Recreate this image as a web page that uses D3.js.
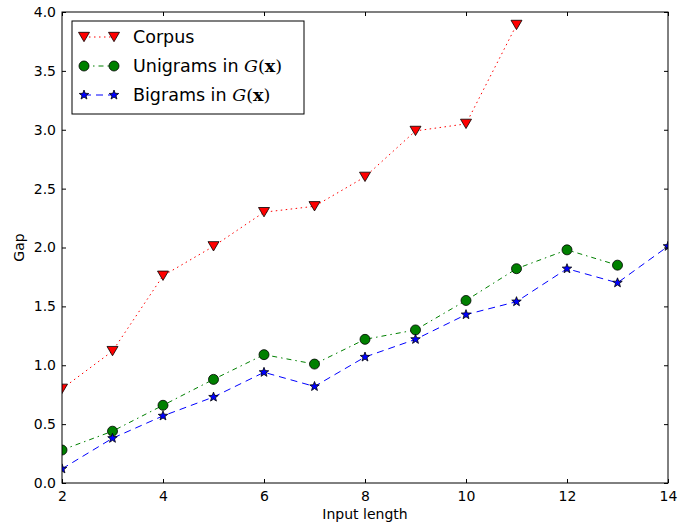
<!DOCTYPE html>
<html>
<head>
<meta charset="utf-8">
<script src="https://cdn.jsdelivr.net/npm/d3@7"></script>
<style>
  body { margin: 0; background: #fff; }
  text { font-family: "DejaVu Sans", sans-serif; }
</style>
</head>
<body>
<div id="chart"></div>
<script>
// data
var corpusX = [2, 3, 4, 5, 6, 7, 8, 9, 10, 11];
var corpusY = [0.80, 1.12, 1.76, 2.01, 2.30, 2.35, 2.60, 2.99, 3.05, 3.89];
var unigramX = [2, 3, 4, 5, 6, 7, 8, 9, 10, 11, 12, 13];
var unigramY = [0.28, 0.44, 0.66, 0.88, 1.09, 1.01, 1.22, 1.30, 1.55, 1.82, 1.98, 1.85];
var bigramX = [2, 3, 4, 5, 6, 7, 8, 9, 10, 11, 12, 13, 14];
var bigramY = [0.12, 0.38, 0.57, 0.73, 0.94, 0.82, 1.07, 1.22, 1.43, 1.54, 1.82, 1.70, 2.01];
var xTicks = [2, 4, 6, 8, 10, 12, 14];
var yTicks = [0, 0.5, 1, 1.5, 2, 2.5, 3, 3.5, 4];

var W = 679, H = 526;
var margin = {top: 12, right: 11, bottom: 43, left: 62},
    width = W - margin.left - margin.right,
    height = H - margin.top - margin.bottom;

var svg = d3.select("#chart").append("svg")
  .attr("width", W)
  .attr("height", H);

var g = svg.append("g")
  .attr("transform", "translate(" + margin.left + "," + margin.top + ")");

var x = d3.scaleLinear().domain([2, 14]).range([0, width]);
var y = d3.scaleLinear().domain([0, 4]).range([height, 0]);

g.append("clipPath").attr("id", "clip")
  .append("rect").attr("width", width).attr("height", height);

var series = [
  {name: "Corpus", xs: corpusX, ys: corpusY, color: "#ff0000", dash: "1.5,3.5", marker: "tri"},
  {name: "Unigrams", xs: unigramX, ys: unigramY, color: "#008000", dash: "5,4,1.5,4", marker: "circle"},
  {name: "Bigrams", xs: bigramX, ys: bigramY, color: "#0000ff", dash: "7,5", marker: "star"}
];

var line = d3.line();

function drawMarker(sel, type, cx, cy, color) {
  if (type == "tri") {
    var s = 5.5;
    sel.append("path")
      .attr("d", "M" + (cx - s) + "," + (cy - s * 0.85) + "L" + (cx + s) + "," + (cy - s * 0.85) + "L" + cx + "," + (cy + s * 0.85) + "Z")
      .attr("fill", color).attr("stroke", "#000").attr("stroke-width", 0.8);
  } else if (type == "circle") {
    sel.append("circle").attr("cx", cx).attr("cy", cy).attr("r", 5)
      .attr("fill", color).attr("stroke", "#000").attr("stroke-width", 0.8);
  } else {
    var pts = [];
    for (var i = 0; i < 10; i++) {
      var r = i % 2 == 0 ? 5 : 2.1;
      var a = -Math.PI / 2 + i * Math.PI / 5;
      pts.push([cx + r * Math.cos(a), cy + r * Math.sin(a)]);
    }
    sel.append("path").attr("d", "M" + pts.join("L") + "Z")
      .attr("fill", color).attr("stroke", "#000").attr("stroke-width", 0.8);
  }
}

var plot = g.append("g").attr("clip-path", "url(#clip)");

series.forEach(function(s) {
  var pts = s.xs.map(function(d, i) { return [x(d), y(s.ys[i])]; });
  plot.append("path")
    .attr("d", line(pts))
    .attr("fill", "none")
    .attr("stroke", s.color)
    .attr("stroke-width", 1)
    .attr("stroke-dasharray", s.dash);
  pts.forEach(function(p) { drawMarker(plot, s.marker, p[0], p[1], s.color); });
});

// axes, ticks pointing inward on all four sides
var ax = g.append("g").attr("transform", "translate(0," + height + ")")
  .call(d3.axisBottom(x).tickValues(xTicks).tickSize(-4).tickPadding(8).tickFormat(d3.format("d")));
var axTop = g.append("g")
  .call(d3.axisTop(x).tickValues(xTicks).tickSize(-4).tickFormat(""));
var ay = g.append("g")
  .call(d3.axisLeft(y).tickValues(yTicks).tickSize(-4).tickPadding(6).tickFormat(d3.format(".1f")));
var ayR = g.append("g").attr("transform", "translate(" + width + ",0)")
  .call(d3.axisRight(y).tickValues(yTicks).tickSize(-4).tickFormat(""));

[ax, axTop, ay, ayR].forEach(function(a) {
  a.select(".domain").remove();
  a.selectAll("line").attr("stroke", "#000");
  a.selectAll("text").attr("font-size", 14).attr("fill", "#000");
});

g.append("rect")
  .attr("width", width).attr("height", height)
  .attr("fill", "none").attr("stroke", "#000").attr("stroke-width", 1);

// axis labels
svg.append("text")
  .attr("x", margin.left + width / 2).attr("y", 519)
  .attr("text-anchor", "middle").attr("font-size", 14)
  .text("Input length");
svg.append("text")
  .attr("transform", "translate(24," + (margin.top + height / 2) + ") rotate(-90)")
  .attr("text-anchor", "middle").attr("font-size", 14)
  .text("Gap");

// legend
var leg = svg.append("g").attr("transform", "translate(72,21)");
leg.append("rect").attr("width", 232).attr("height", 93)
  .attr("fill", "#fff").attr("stroke", "#000").attr("stroke-width", 1);

series.forEach(function(s, i) {
  var ly = 16 + i * 29;
  leg.append("path")
    .attr("d", line([[12, ly], [42, ly]]))
    .attr("stroke", s.color).attr("stroke-width", 1)
    .attr("stroke-dasharray", s.dash).attr("fill", "none");
  drawMarker(leg, s.marker, 12, ly, s.color);
  drawMarker(leg, s.marker, 42, ly, s.color);
  var t = leg.append("text").attr("x", 61).attr("y", ly + 6).attr("font-size", 17.5);
  if (i == 0) {
    t.text("Corpus");
  } else {
    t.append("tspan").text(s.name + " in ");
    t.append("tspan").attr("font-family", "DejaVu Serif").attr("font-style", "italic").text("G");
    t.append("tspan").attr("font-family", "DejaVu Serif").text("(");
    t.append("tspan").attr("font-family", "DejaVu Serif").attr("font-weight", "bold").text("x");
    t.append("tspan").attr("font-family", "DejaVu Serif").text(")");
  }
});
</script>
</body>
</html>
